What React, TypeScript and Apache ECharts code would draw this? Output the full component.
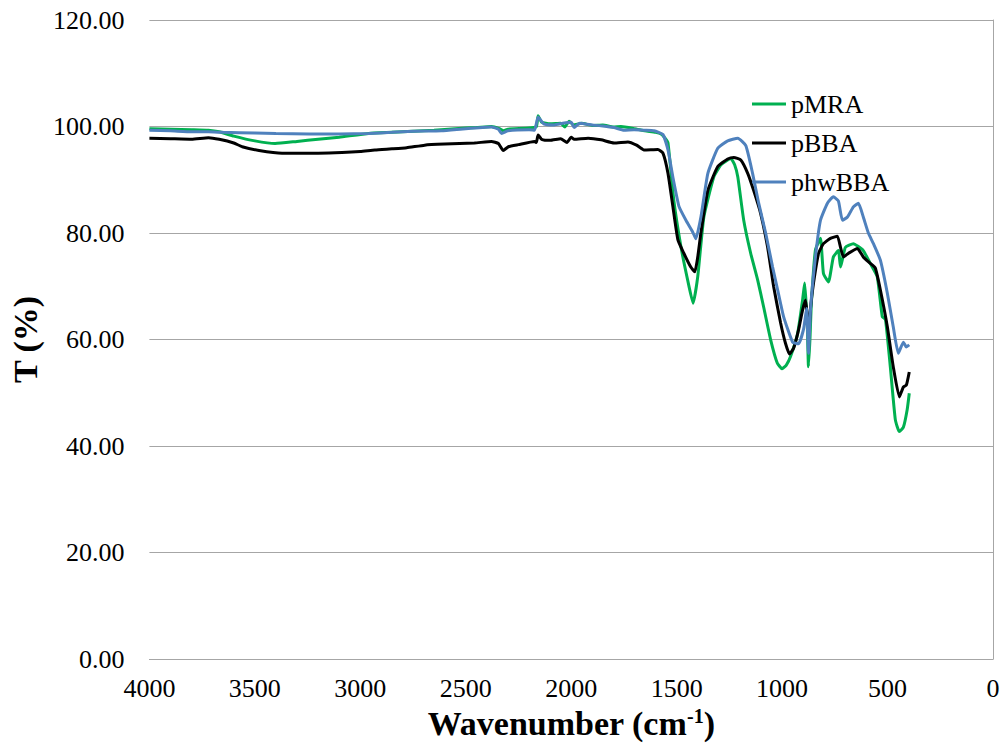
import React, { useEffect, useRef } from "react";
import * as echarts from "echarts";

// FTIR transmittance spectra, wavenumber (cm-1) vs T (%)
const seriesNames = ["pMRA", "pBBA", "phwBBA"];
const seriesColors = ["#00B050", "#000000", "#4F81BD"];

const xTicks = [4000, 3500, 3000, 2500, 2000, 1500, 1000, 500, 0];
const yTicks = [0, 20, 40, 60, 80, 100, 120];

const mraWave = [
  4000, 3900, 3800, 3720, 3669, 3600, 3500, 3404, 3300, 3200, 3100, 2960, 2850, 2750, 2650, 2550,
  2450, 2378, 2340, 2320, 2300, 2200, 2165, 2157, 2140, 2100, 2050, 2030, 2010, 1990, 1950, 1900,
  1850, 1800, 1764, 1700, 1650, 1600, 1574, 1555, 1541, 1513, 1480, 1447, 1422, 1400, 1371, 1324,
  1290, 1258, 1243, 1225, 1210, 1182, 1149, 1116, 1087, 1054, 1023, 1000, 980, 960, 927, 903, 893,
  885, 880, 875, 868, 861, 842, 818, 804, 780, 757, 733, 723, 700, 662, 640, 615, 582, 549, 525, 510,
  487, 463, 444, 425, 407, 397,
];
const mraT = [
  99.6, 99.5, 99.4, 99.3, 99.0, 98.2, 97.3, 96.8, 97.2, 97.6, 98.0, 98.7, 98.9, 99.1, 99.3, 99.6,
  99.8, 100.0, 99.6, 99.2, 99.5, 99.7, 100.0, 102.0, 100.8, 100.5, 100.6, 99.9, 101.0, 100.3, 100.6,
  100.2, 100.3, 99.9, 100.0, 99.6, 99.2, 98.9, 98.6, 97.8, 96.9, 86.0, 77.5, 71.0, 66.8, 71.8, 83.0,
  90.5, 92.8, 93.7, 94.0, 92.8, 90.5, 82.4, 76.2, 71.2, 66.0, 59.9, 55.6, 54.5, 55.2, 56.8, 61.0,
  67.4, 70.6, 66.0, 62.0, 54.9, 60.0, 67.0, 76.8, 79.0, 72.4, 70.8, 75.5, 76.7, 73.6, 77.3, 78.0,
  77.5, 76.7, 74.3, 71.8, 64.3, 63.8, 54.9, 44.9, 42.7, 43.5, 46.8, 49.9,
];

const bbaWave = [
  4000, 3900, 3800, 3720, 3669, 3600, 3560, 3480, 3371, 3200, 3087, 3000, 2931, 2850, 2780, 2695,
  2600, 2459, 2378, 2345, 2322, 2298, 2250, 2174, 2165, 2157, 2140, 2100, 2050, 2020, 2000, 1986,
  1920, 1858, 1797, 1731, 1690, 1655, 1589, 1565, 1541, 1518, 1494, 1466, 1433, 1414, 1400, 1385,
  1352, 1305, 1258, 1229, 1196, 1163, 1135, 1102, 1069, 1040, 1007, 984, 965, 945, 922, 903, 889,
  880, 873, 865, 851, 827, 804, 771, 738, 723, 709, 685, 643, 615, 582, 558, 534, 501, 473, 444, 425,
  411, 397,
];
const bbaT = [
  97.8, 97.7, 97.6, 97.9, 97.6, 96.9, 96.2, 95.5, 95.0, 95.0, 95.1, 95.3, 95.6, 95.8, 96.0, 96.5,
  96.7, 96.9, 97.2, 96.8, 95.5, 96.2, 96.6, 97.2, 97.0, 98.4, 97.6, 97.4, 97.7, 97.0, 98.0, 97.6,
  97.8, 97.5, 96.9, 97.1, 96.5, 95.6, 95.7, 95.0, 91.2, 85.0, 78.7, 76.2, 73.6, 72.7, 75.5, 80.0,
  88.0, 92.5, 93.9, 94.2, 93.7, 91.2, 88.0, 83.7, 77.4, 69.9, 63.1, 59.3, 57.3, 58.4, 61.8, 65.5,
  67.4, 64.3, 61.8, 66.0, 70.6, 76.2, 78.0, 79.0, 79.4, 77.3, 75.5, 76.2, 77.1, 75.5, 74.3, 73.4,
  69.3, 62.4, 54.9, 49.2, 51.1, 51.4, 53.9,
];

const hwWave = [
  4000, 3900, 3800, 3720, 3650, 3500, 3400, 3243, 3100, 2960, 2850, 2750, 2615, 2500, 2378, 2345,
  2330, 2300, 2200, 2174, 2157, 2130, 2080, 2040, 2000, 1986, 1960, 1900, 1850, 1797, 1750, 1702,
  1650, 1608, 1565, 1541, 1518, 1489, 1456, 1424, 1409, 1385, 1352, 1305, 1258, 1210, 1172, 1140,
  1111, 1078, 1045, 1021, 993, 950, 922, 898, 884, 875, 865, 842, 818, 785, 757, 733, 714, 690, 662,
  638, 615, 591, 567, 534, 501, 473, 449, 425, 411, 397,
];
const hwT = [
  99.3, 99.2, 99.0, 99.0, 98.9, 98.8, 98.7, 98.6, 98.6, 98.7, 98.9, 99.1, 99.2, 99.6, 99.9, 99.5,
  98.7, 99.2, 99.4, 99.3, 101.8, 100.5, 100.3, 100.6, 100.8, 99.8, 100.6, 100.3, 100.1, 99.8, 99.3,
  99.4, 99.3, 99.2, 98.5, 95.6, 90.5, 85.0, 82.4, 80.2, 78.9, 83.0, 91.2, 95.9, 97.3, 97.8, 96.4,
  91.2, 85.6, 80.0, 73.6, 69.3, 64.3, 59.5, 59.2, 62.0, 65.8, 57.4, 65.8, 75.5, 82.4, 85.6, 86.8,
  86.0, 82.4, 83.0, 84.9, 85.6, 83.0, 80.0, 78.0, 74.9, 68.7, 62.4, 57.4, 59.5, 58.6, 59.0,
];

const waves = [mraWave, bbaWave, hwWave];
const values = [mraT, bbaT, hwT];

const FONT = "Liberation Serif";

export default function App() {
  const ref = useRef<HTMLDivElement>(null);

  useEffect(() => {
    if (!ref.current) return;
    const chart = echarts.init(ref.current, undefined, { renderer: "svg" });

    const series = seriesNames.map((name, i) => ({
      name,
      type: "line",
      data: waves[i].map((w, k) => [w, values[i][k]]),
      showSymbol: false,
      symbol: "none",
      smooth: 0.15,
      lineStyle: { color: seriesColors[i], width: 3 },
      itemStyle: { color: seriesColors[i] },
      z: 2 + i,
    }));

    chart.setOption({
      animation: false,
      backgroundColor: "#ffffff",
      textStyle: { fontFamily: FONT },
      grid: { left: 147, right: 10, top: 20, bottom: 88, containLabel: false },
      legend: {
        orient: "vertical",
        left: 747,
        top: 86,
        icon: "rect",
        itemWidth: 34,
        itemHeight: 3,
        itemGap: 13,
        data: seriesNames,
        textStyle: { fontFamily: FONT, fontSize: 26, color: "#000" },
      },
      xAxis: {
        type: "value",
        inverse: true,
        min: xTicks[xTicks.length - 1],
        max: xTicks[0],
        interval: 500,
        name: "{a|Wavenumber (cm}{b|-1}{a|)}",
        nameLocation: "middle",
        nameGap: 33,
        nameTextStyle: {
          rich: {
            a: { fontFamily: FONT, fontSize: 34, fontWeight: "bold", color: "#000", lineHeight: 36 },
            b: { fontFamily: FONT, fontSize: 20, fontWeight: "bold", color: "#000", verticalAlign: "top", lineHeight: 36 },
          },
        },
        axisLine: { show: true, lineStyle: { color: "#A6A6A6", width: 1 } },
        axisTick: { show: false },
        splitLine: { show: false },
        axisLabel: {
          fontFamily: FONT,
          fontSize: 26,
          color: "#000",
          margin: 16,
          formatter: (v: number) => String(v),
        },
      },
      yAxis: {
        type: "value",
        min: yTicks[0],
        max: yTicks[yTicks.length - 1],
        interval: 20,
        name: "T (%)",
        nameLocation: "middle",
        nameGap: 103,
        nameTextStyle: { fontFamily: FONT, fontSize: 34, fontWeight: "bold", color: "#000" },
        axisLine: { show: true, lineStyle: { color: "#A6A6A6", width: 1 } },
        axisTick: { show: true, length: 4, lineStyle: { color: "#A6A6A6" } },
        splitLine: { show: true, lineStyle: { color: "#A6A6A6", width: 1 } },
        axisLabel: {
          fontFamily: FONT,
          fontSize: 26,
          color: "#000",
          margin: 25,
          formatter: (v: number) => v.toFixed(2),
        },
      },
      series,
    });

    return () => chart.dispose();
  }, []);

  return <div ref={ref} style={{ width: 1003, height: 747, position: "absolute", left: 0, top: 0 }} />;
}
